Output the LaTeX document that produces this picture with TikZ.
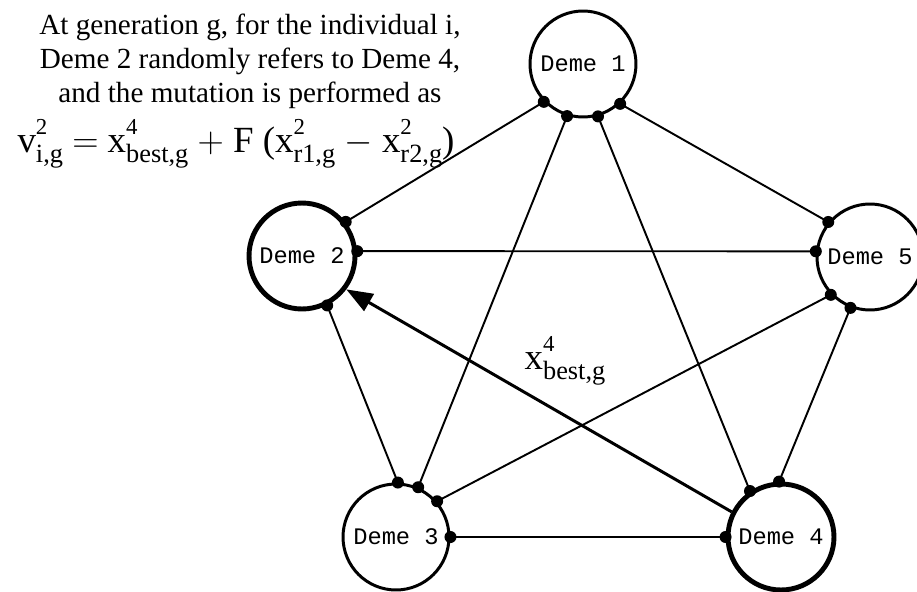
\documentclass[tikz,border=0pt]{standalone}
\usepackage{fontspec}
\setmainfont{Liberation Serif}
\newfontfamily\demefont{Liberation Mono}
\usetikzlibrary{arrows.meta}
\newcommand{\idx}[3]{#1\rlap{\raisebox{10pt}{\fontsize{13}{13}\selectfont#2}}\raisebox{-6.2pt}{\fontsize{15}{15}\selectfont#3}}

\begin{document}
\begin{tikzpicture}[x=0.02cm,y=-0.02cm,
  deme/.style={draw,circle,minimum size=2.12cm,inner sep=0pt,line width=1.7pt,font=\demefont\fontsize{13.5}{15}\selectfont},
  chosen/.style={deme,line width=2.8pt},
  link/.style={line width=1.1pt},
  refer/.style={-{Triangle[length=15pt,width=11pt]},line width=1.7pt},
  note/.style={align=center,font=\fontsize{16.6}{19.3}\selectfont},
  formula/.style={font=\fontsize{21}{25}\selectfont,inner sep=0pt}
]
\clip (0,0) rectangle (917,592);
\node[deme] (d1) at (583,64) {Deme 1};
\node[chosen] (d2) at (302,256) {Deme 2};
\node[deme] (d3) at (396,537) {Deme 3};
\node[chosen] (d4) at (781,537) {Deme 4};
\node[deme] (d5) at (870,257) {Deme 5};
\foreach \a/\b in {d1.224/d2.38,d1.253/d3.66,d1.286/d4.124,d1.313/d5.140,d2.5/d5.174,
                   d2.297/d3.88,d3.41/d5.224,d3.0/d4.180,d4.92/d5.249}{
  \draw[link] (\a) -- (\b);
  \fill (\a) circle[radius=6] (\b) circle[radius=6];
}
\draw[refer] (d4.153) -- (d2.323);
\node[formula,anchor=base] (best) at (565,369) {\idx{x}{4}{best,g}};
\node[note] (text) at (250,61) {At generation g, for the individual i,\\Deme 2 randomly refers to Deme 4,\\and the mutation is performed as};
\node[formula,anchor=base] (rule) at (236,152) {\idx{v}{2}{i,g} $=$ \idx{x}{4}{best,g} $+$ F (\idx{x}{2}{r1,g} $-$ \idx{x}{2}{r2,g})};
\end{tikzpicture}
\end{document}
